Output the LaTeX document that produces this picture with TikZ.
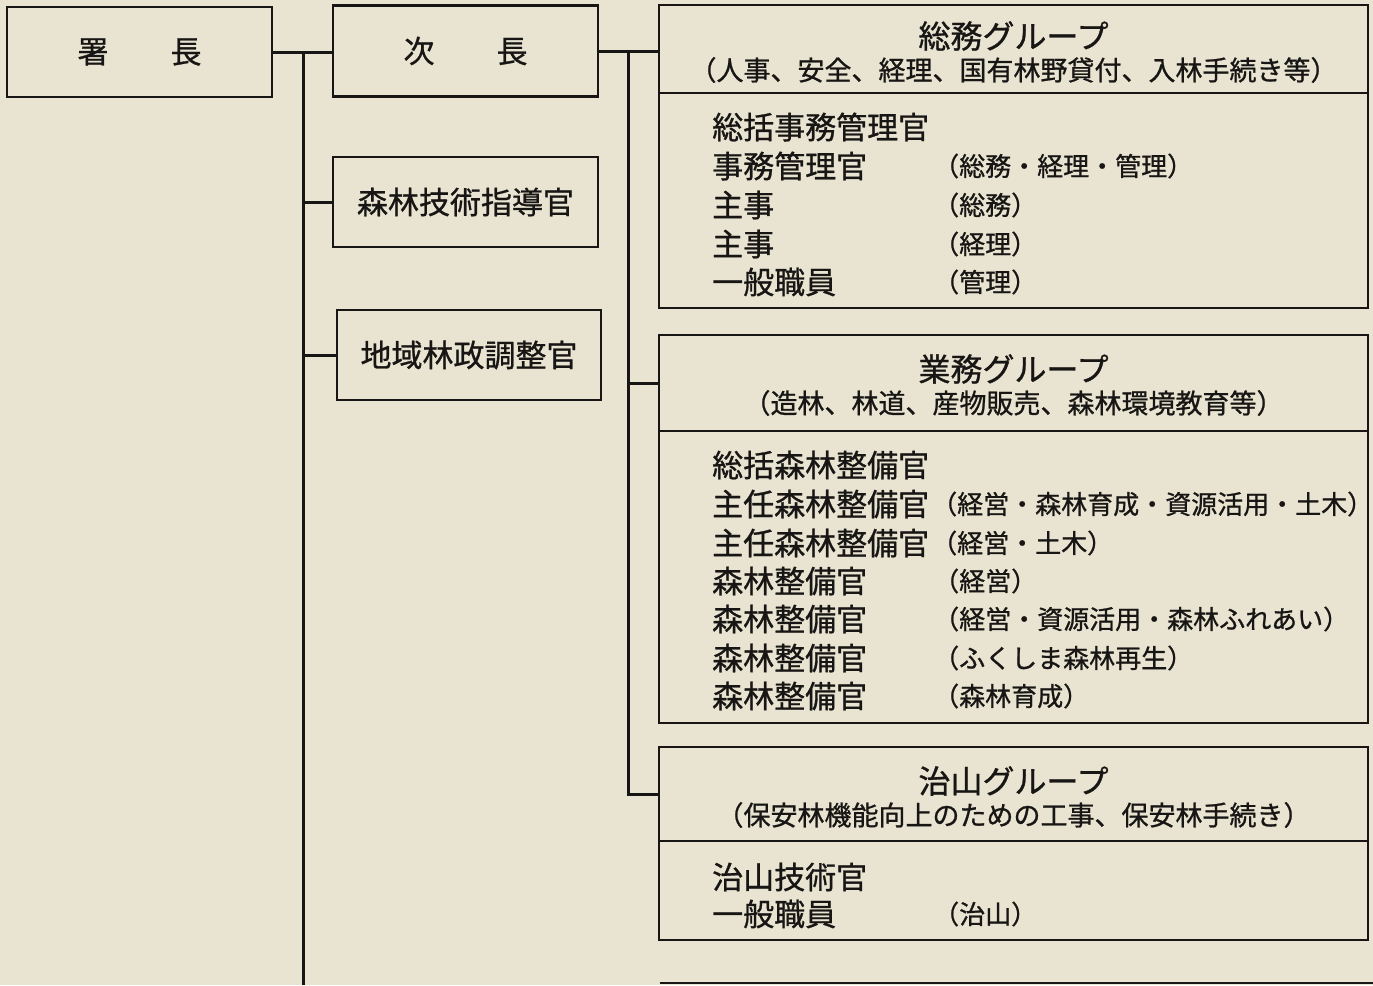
\documentclass[tikz,border=0pt]{standalone}
\usepackage{fontspec}
\newfontfamily\jp{Noto Sans CJK JP}[FakeBold=0.9]
\definecolor{paper}{RGB}{232,228,209}
\definecolor{ink}{RGB}{24,22,20}
\begin{document}
\begin{tikzpicture}[x=1pt,y=-1pt,
  box/.style={draw=ink, line width=2.5pt, rectangle, inner sep=0pt, text=ink, font=\jp\fontsize{31}{31}\selectfont},
  conn/.style={draw=ink, line width=3pt},
  txt/.style={inner sep=0pt, anchor=west, text=ink, font=\jp\fontsize{31}{31}\selectfont},
  note/.style={inner sep=0pt, anchor=west, text=ink, font=\jp\fontsize{26}{26}\selectfont},
  ttl/.style={inner sep=0pt, text=ink, font=\jp\fontsize{32}{32}\selectfont},
  subt/.style={inner sep=0pt, text=ink, font=\jp\fontsize{27}{27}\selectfont}]
\fill[paper] (0,0) rectangle (1373,985);
\useasboundingbox (0,0) rectangle (1373,985);

% left column boxes
\node[box, minimum width=265pt, minimum height=90pt] (shocho) at (139.5,52) {署　　長};
\node[box, minimum width=265pt, minimum height=91pt] (jicho) at (465.5,51) {次　　長};
\node[box, minimum width=265pt, minimum height=90pt] (gijutsu) at (465.5,202) {森林技術指導官};
\node[box, minimum width=264pt, minimum height=90pt] (chiiki) at (469,355) {地域林政調整官};

% 総務グループ
\node[box, minimum width=709pt, minimum height=88pt] (soumuT) at (1013.5,49) {};
\node[box, minimum width=709pt, minimum height=215pt] (soumuB) at (1013.5,200.5) {};
\node[ttl] (soumuTitle) at (1013.5,36) {総務グループ};
\node[subt] (soumuSub) at (1013.5,70) {（人事、安全、経理、国有林野貸付、入林手続き等）};
\node[txt] (s1) at (712,127) {総括事務管理官};
\node[txt] (s2) at (712,166) {事務管理官};
\node[note] (s2n) at (933,166) {（総務・経理・管理）};
\node[txt] (s3) at (712,205) {主事};
\node[note] (s3n) at (933,205) {（総務）};
\node[txt] (s4) at (712,244) {主事};
\node[note] (s4n) at (933,244) {（経理）};
\node[txt] (s5) at (712,282) {一般職員};
\node[note] (s5n) at (933,282) {（管理）};

% 業務グループ
\node[box, minimum width=709pt, minimum height=96pt] (gyomuT) at (1013.5,383) {};
\node[box, minimum width=709pt, minimum height=292pt] (gyomuB) at (1013.5,577) {};
\node[ttl] (gyomuTitle) at (1013.5,369) {業務グループ};
\node[subt] (gyomuSub) at (1013.5,403) {（造林、林道、産物販売、森林環境教育等）};
\node[txt] (g1) at (712,465) {総括森林整備官};
\node[txt] (g2) at (712,504) {主任森林整備官};
\node[note] (g2n) at (931,504) {（経営・森林育成・資源活用・土木）};
\node[txt] (g3) at (712,543) {主任森林整備官};
\node[note] (g3n) at (931,543) {（経営・土木）};
\node[txt] (g4) at (712,581) {森林整備官};
\node[note] (g4n) at (933,581) {（経営）};
\node[txt] (g5) at (712,619) {森林整備官};
\node[note] (g5n) at (933,619) {（経営・資源活用・森林ふれあい）};
\node[txt] (g6) at (712,658) {森林整備官};
\node[note] (g6n) at (933,658) {（ふくしま森林再生）};
\node[txt] (g7) at (712,696) {森林整備官};
\node[note] (g7n) at (933,696) {（森林育成）};

% 治山グループ
\node[box, minimum width=709pt, minimum height=94pt] (chisanT) at (1013.5,794) {};
\node[box, minimum width=709pt, minimum height=99pt] (chisanB) at (1013.5,890.5) {};
\node[ttl] (chisanTitle) at (1013.5,781) {治山グループ};
\node[subt] (chisanSub) at (1013.5,815) {（保安林機能向上のための工事、保安林手続き）};
\node[txt] (c1) at (712,877) {治山技術官};
\node[txt] (c2) at (712,914) {一般職員};
\node[note] (c2n) at (933,914) {（治山）};

% connectors
\coordinate (v1) at (303,52);
\coordinate (v1end) at (303,985);
\draw[conn] (shocho.east) -- (shocho.east -| jicho.west);
\draw[conn] (v1) -- (v1end);
\draw[conn] (v1 |- gijutsu.west) -- (gijutsu.west);
\draw[conn] (v1 |- chiiki.west) -- (chiiki.west);
\coordinate (v2) at (628,51);
\draw[conn] (jicho.east) -- (jicho.east -| soumuT.west);
\draw[conn] (v2) -- (v2 |- chisanT.west) -- (chisanT.west);
\draw[conn] (v2 |- gyomuT.west) -- (gyomuT.west);

% top edge of the next (cut-off) box
\coordinate (nextL) at (660,983);
\coordinate (nextR) at (1373,983);
\draw[draw=ink, line width=2.5pt] (nextL) -- (nextR);
\end{tikzpicture}
\end{document}
